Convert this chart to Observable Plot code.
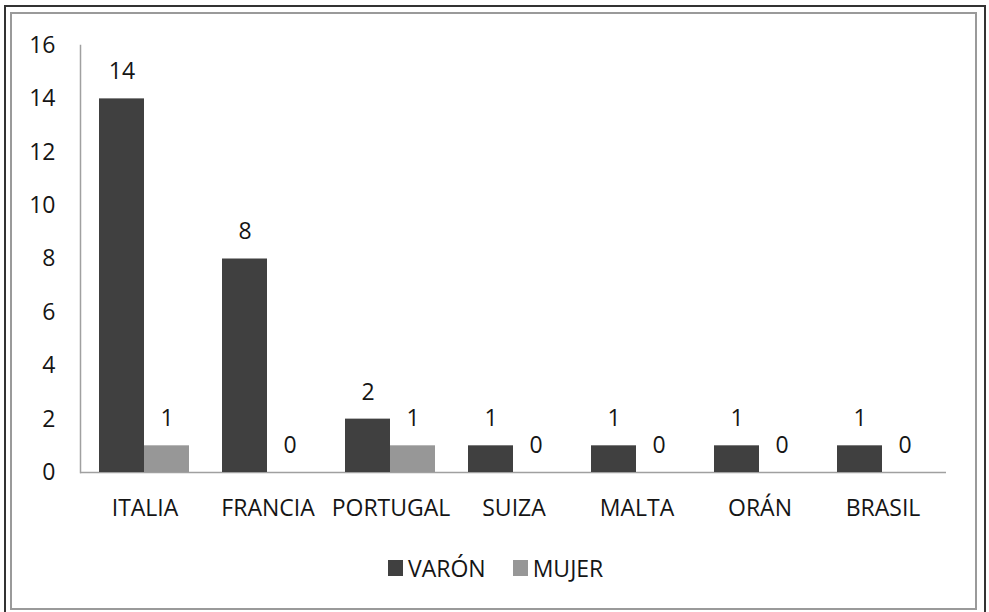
<!DOCTYPE html>
<html>
<head>
<meta charset="utf-8">
<script src="https://cdn.jsdelivr.net/npm/d3@7"></script>
<script src="https://cdn.jsdelivr.net/npm/@observablehq/plot@0.6"></script>
<style>
  html, body { margin: 0; padding: 0; background: #fff; }
  body { width: 989px; height: 612px; position: relative; overflow: hidden; font-family: "Open Sans", sans-serif; }
  #outer { position: absolute; left: 4px; top: 5px; width: 982px; height: 620px; border: 2px solid #333; box-sizing: border-box; }
  #inner { position: absolute; left: 10px; top: 12px; width: 967px; height: 598px; border: 2px solid #9a9a9a; box-sizing: border-box; }
  #chart { position: absolute; left: 0; top: 0; }
  #legend { position: absolute; left: 388px; top: 552px; display: flex; align-items: center; font-size: 23px; color: #151515; }
  #legend .item { display: flex; align-items: center; margin-right: 27px; }
  #legend .sw { width: 15px; height: 16px; margin-right: 5px; }
</style>
</head>
<body>
<div id="outer"></div>
<div id="inner"></div>
<div id="chart"></div>
<div id="legend"></div>
<script>
const countries = ["ITALIA", "FRANCIA", "PORTUGAL", "SUIZA", "MALTA", "ORÁN", "BRASIL"];
const varon = [14, 8, 2, 1, 1, 1, 1];
const mujer = [1, 0, 1, 0, 0, 0, 0];
const series = ["VARÓN", "MUJER"];
const colors = ["#404040", "#979797"];
const yTicks = [0, 2, 4, 6, 8, 10, 12, 14, 16];

const dataV = countries.map((c, i) => ({country: c, sex: series[0], value: varon[i]}));
const dataM = countries.map((c, i) => ({country: c, sex: series[1], value: mujer[i]}));

const textColor = "#151515";
const fs = 23;
const plot = Plot.plot({
  width: 989,
  height: 612,
  marginLeft: 80,
  marginRight: 43,
  marginTop: 45,
  marginBottom: 140,
  style: {fontFamily: "Open Sans, sans-serif", fontSize: fs + "px", color: textColor, background: "transparent"},
  x: {domain: countries, paddingInner: 0.636, paddingOuter: 0.318, label: null},
  y: {domain: [0, 16], label: null},
  color: {domain: series, range: colors},
  marks: [
    Plot.frame({anchor: "left", stroke: "#a0a0a0", strokeWidth: 1.5}),
    Plot.ruleY([0], {stroke: "#a0a0a0", strokeWidth: 1.5}),
    Plot.barY(dataV, {x: "country", y: "value", fill: "sex", dx: -23}),
    Plot.barY(dataM, {x: "country", y: "value", fill: "sex", dx: 22}),
    Plot.text(dataV, {x: "country", y: "value", text: d => String(d.value), dx: -23, dy: -27, lineAnchor: "middle", fill: textColor, fontSize: fs}),
    Plot.text(dataM, {x: "country", y: "value", text: d => String(d.value), dx: 22, dy: -27, lineAnchor: "middle", fill: textColor, fontSize: fs}),
    Plot.axisY({ticks: yTicks, tickSize: 0, tickPadding: 25, label: null, fill: textColor, fontSize: fs}),
    Plot.axisX({tickSize: 0, tickPadding: 27, label: null, fill: textColor, fontSize: fs})
  ]
});
document.getElementById("chart").appendChild(plot);

const legend = document.getElementById("legend");
series.forEach((s, i) => {
  const item = document.createElement("div");
  item.className = "item";
  const sw = document.createElement("div");
  sw.className = "sw";
  sw.style.background = colors[i];
  const label = document.createElement("span");
  label.textContent = s;
  item.appendChild(sw);
  item.appendChild(label);
  legend.appendChild(item);
});
</script>
</body>
</html>
